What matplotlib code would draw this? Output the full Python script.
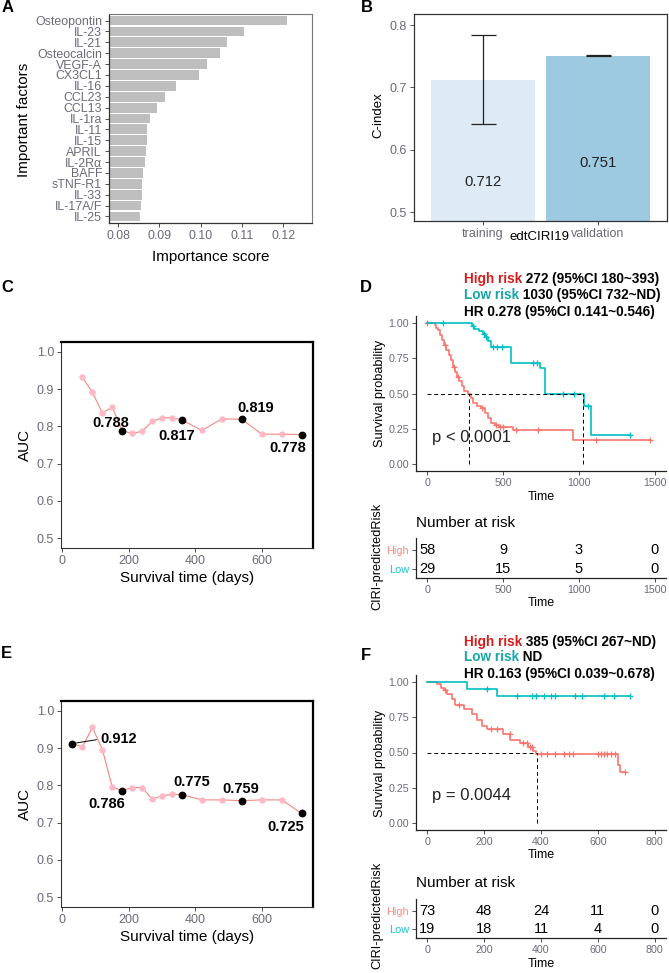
import numpy as np
import matplotlib.pyplot as plt

plt.rcParams['font.family'] = ['Liberation Sans', 'DejaVu Sans']

# ---------------- data ----------------
# A: importance of cytokines
factors = ['Osteopontin', 'IL-23', 'IL-21', 'Osteocalcin', 'VEGF-A', 'CX3CL1', 'IL-16',
           'CCL23', 'CCL13', 'IL-1ra', 'IL-11', 'IL-15', 'APRIL', 'IL-2Rα', 'BAFF',
           'sTNF-R1', 'IL-33', 'IL-17A/F', 'IL-25']
importance = [0.1210, 0.1104, 0.1063, 0.1047, 0.1015, 0.0995, 0.0940, 0.0914, 0.0894,
              0.0878, 0.0870, 0.0870, 0.0867, 0.0865, 0.0860, 0.0859, 0.0857, 0.0855, 0.0853]

# B: C-index
cohorts = ['training', 'validation']
cindex = [0.712, 0.751]
cindex_lo = [0.642, 0.751]
cindex_hi = [0.784, 0.752]

# C: time-dependent AUC, training
c_days = [60, 90, 120, 150, 180, 210, 240, 270, 300, 330, 360, 420, 480, 540, 600, 660, 720]
c_auc = [0.931, 0.891, 0.836, 0.851, 0.788, 0.781, 0.787, 0.813, 0.823, 0.823, 0.817,
         0.789, 0.820, 0.819, 0.779, 0.779, 0.778]
c_key_days = [180, 360, 540, 720]

# E: time-dependent AUC, validation
e_days = [30, 60, 90, 120, 150, 180, 210, 240, 270, 300, 330, 360, 420, 480, 540, 600, 660, 720]
e_auc = [0.912, 0.903, 0.955, 0.896, 0.795, 0.786, 0.794, 0.794, 0.763, 0.772, 0.776,
         0.775, 0.761, 0.761, 0.759, 0.761, 0.761, 0.725]
e_key_days = [30, 180, 360, 540, 720]

# D: Kaplan-Meier, training
d_high_t = [0, 50, 60, 70, 83, 95, 110, 125, 140, 156, 170, 182, 195, 210, 226, 245, 265,
            285, 303, 330, 357, 380, 401, 420, 445, 470, 566, 962]
d_high_s = [1.0, 0.983, 0.966, 0.948, 0.914, 0.879, 0.845, 0.81, 0.776, 0.741, 0.69, 0.655,
            0.62, 0.586, 0.552, 0.517, 0.50, 0.466, 0.431, 0.414, 0.397, 0.362, 0.328, 0.293,
            0.276, 0.259, 0.238, 0.167]
d_high_cens = [0, 118, 175, 205, 360, 455, 480, 500, 585, 730, 1110, 1470]
d_low_t = [0, 292, 310, 340, 368, 385, 401, 423, 555, 741, 774, 1032, 1083]
d_low_s = [1.0, 0.98, 0.96, 0.945, 0.925, 0.90, 0.87, 0.83, 0.72, 0.68, 0.50, 0.41, 0.205]
d_low_cens = [105, 300, 372, 390, 435, 460, 490, 700, 725, 895, 970, 1060, 1340]
d_medians = [272, 1030]
d_risk_times = [0, 500, 1000, 1500]
d_risk_high = [58, 9, 3, 0]
d_risk_low = [29, 15, 5, 0]

# F: Kaplan-Meier, validation
f_high_t = [0, 35, 47, 58, 70, 85, 99, 128, 157, 174, 192, 209, 267, 291, 326, 355, 372,
            384, 672, 678]
f_high_s = [1.0, 0.986, 0.959, 0.945, 0.918, 0.877, 0.84, 0.81, 0.77, 0.73, 0.685, 0.667,
            0.63, 0.59, 0.57, 0.54, 0.51, 0.49, 0.41, 0.365]
f_high_cens = [62, 112, 225, 245, 290, 335, 350, 362, 370, 400, 420, 450, 480, 500, 512,
               600, 612, 622, 632, 645, 660, 695]
f_low_t = [0, 140, 244]
f_low_s = [1.0, 0.952, 0.898]
f_low_cens = [209, 314, 370, 384, 409, 436, 451, 519, 544, 622, 657, 715]
f_medians = [385]
f_risk_times = [0, 200, 400, 600, 800]
f_risk_high = [73, 48, 24, 11, 0]
f_risk_low = [19, 18, 11, 4, 0]

# ---------------- figure ----------------
W, H = 669, 973
fig = plt.figure(figsize=(W / 100, H / 100), dpi=100)

TICK = '#6b6b78'
SALMON = '#F8766D'
TEAL = '#00BFC4'


def add_ax(l, t, r, b):
    return fig.add_axes([l / W, 1 - b / H, (r - l) / W, (b - t) / H])


def ftext(x, y, s, **kw):
    kw.setdefault('va', 'center')
    kw.setdefault('ha', 'center')
    return fig.text(x / W, 1 - y / H, s, **kw)


def ticks_style(ax, size):
    ax.tick_params(color='#333333', labelcolor=TICK, labelsize=size, length=3, width=0.6, pad=2)


# ---- A ----
axA = add_ax(109, 14, 312, 223)
ypos = np.arange(len(factors))[::-1]
axA.barh(ypos, importance, height=0.9, color='#BEBEBE')
axA.set_xlim(0.0778, 0.127)
axA.set_ylim(-0.6, 18.6)
axA.set_yticks(ypos)
axA.set_yticklabels(factors)
axA.set_xticks([0.08, 0.09, 0.10, 0.11, 0.12])
axA.set_xticklabels(['0.08', '0.09', '0.10', '0.11', '0.12'])
ticks_style(axA, 8.9)
for s in ['left', 'bottom']:
    axA.spines[s].set_color('#333333')
    axA.spines[s].set_linewidth(0.9)
for s in ['top', 'right']:
    axA.spines[s].set_color('#777777')
    axA.spines[s].set_linewidth(0.8)
ftext(24, 120, 'Important factors', rotation=90, fontsize=11)
ftext(211, 257, 'Importance score', fontsize=11)

# ---- B ----
axB = add_ax(414, 14, 667, 221)
xb = np.arange(1, len(cohorts) + 1)
axB.bar(xb, cindex, width=0.9, color=['#DEEBF7', '#9ECAE1'])
err = [np.array(cindex) - np.array(cindex_lo), np.array(cindex_hi) - np.array(cindex)]
axB.errorbar(xb, cindex, yerr=err, fmt='none', ecolor='#222222', elinewidth=0.9,
             capsize=9, capthick=0.9)
for x, v in zip(xb, cindex):
    axB.text(x, v * 0.77, f'{v:.3f}', ha='center', va='center', fontsize=10.7, color='#222222')
axB.set_xlim(0.4, 2.6)
axB.set_ylim(0.4856, 0.8177)
axB.set_yticks([0.5, 0.6, 0.7, 0.8])
axB.set_xticks(xb)
axB.set_xticklabels(cohorts)
ticks_style(axB, 9)
for s in axB.spines.values():
    s.set_color('#333333')
    s.set_linewidth(0.9)
ftext(378, 115, 'C-index', rotation=90, fontsize=9.5)
ftext(540, 237, 'edtCIRI19', fontsize=9.5)


# ---- C / E ----
def auc_panel(ax, days, auc, key_days, label_pos, segment=None):
    days = np.array(days)
    auc = np.array(auc)
    key = np.isin(days, key_days)
    ax.plot(days, auc, color='#F4877F', lw=0.8, zorder=1)
    ax.plot(days[~key], auc[~key], 'o', color='#FFB8C6', ms=4.6, mec='none', zorder=2)
    ax.plot(days[key], auc[key], 'o', color='black', ms=4.6, zorder=3)
    for i, (d, v, (lx, ly)) in enumerate(zip(days[key], auc[key], label_pos)):
        if segment is not None and i == segment:
            ax.annotate(f'{v:.3f}', xy=(d, v), xytext=(lx, ly), ha='center', va='center',
                        fontsize=10.5, fontweight='bold',
                        arrowprops=dict(arrowstyle='-', color='black', lw=0.7,
                                        relpos=(0, 0.5), shrinkA=1, shrinkB=3))
        else:
            ax.text(lx, ly, f'{v:.3f}', ha='center', va='center', fontsize=10.5,
                    fontweight='bold')
    ax.set_xlim(-4.5, 754.5)
    ax.set_ylim(0.474, 1.026)
    ax.set_xticks([0, 200, 400, 600])
    ax.set_yticks([0.5, 0.6, 0.7, 0.8, 0.9, 1.0])
    ticks_style(ax, 9)
    for s in ['left', 'bottom']:
        ax.spines[s].set_color('#333333')
        ax.spines[s].set_linewidth(0.8)
    for s in ['top', 'right']:
        ax.spines[s].set_color('black')
        ax.spines[s].set_linewidth(1.6)


axC = add_ax(61, 342, 313, 548)
auc_panel(axC, c_days, c_auc, c_key_days,
          [(146, 0.81), (343, 0.773), (583, 0.85), (677, 0.741)])
ftext(25, 445, 'AUC', rotation=90, fontsize=11)
ftext(187, 578, 'Survival time (days)', fontsize=11)

axE = add_ax(61, 701, 313, 907)
auc_panel(axE, e_days, e_auc, e_key_days,
          [(170, 0.924), (132, 0.75), (390, 0.81), (537, 0.79), (672, 0.689)], segment=0)
ftext(25, 804, 'AUC', rotation=90, fontsize=11)
ftext(187, 937, 'Survival time (days)', fontsize=11)


# ---- D / F ----
def km_panel(ax, curves, medians, ptext, xlim, xticks):
    for t, s, cens, col in curves:
        t = np.array(t, float)
        s = np.array(s, float)
        end = max(max(cens), t[-1])
        ax.step(np.append(t, end), np.append(s, s[-1]), where='post', color=col, lw=1.2)
        idx = np.searchsorted(t, cens, side='right') - 1
        ax.plot(cens, s[idx], '+', color=col, ms=5, mew=0.9, ls='none')
    m = max(medians)
    ax.plot([0, m], [0.5, 0.5], ls=(0, (4, 3)), color='black', lw=0.7)
    for md in medians:
        ax.plot([md, md], [0, 0.5], ls=(0, (4, 3)), color='black', lw=0.7)
    ax.text(ptext[0], ptext[1], ptext[2], ha='left', va='center', fontsize=12, color='#222222')
    ax.set_xlim(*xlim)
    ax.set_ylim(-0.05, 1.05)
    ax.set_xticks(xticks)
    ax.set_yticks([0, 0.25, 0.5, 0.75, 1.0])
    ax.set_yticklabels(['0.00', '0.25', '0.50', '0.75', '1.00'])
    ticks_style(ax, 7.7)
    for s in ['top', 'right']:
        ax.spines[s].set_visible(False)
    for s in ['left', 'bottom']:
        ax.spines[s].set_color('#222222')
        ax.spines[s].set_linewidth(0.9)


def risk_table(ax, times, high, low, xlim, xticks):
    for t, h, l in zip(times, high, low):
        ax.text(t, 2, str(h), ha='center', va='center', fontsize=10.5)
        ax.text(t, 1, str(l), ha='center', va='center', fontsize=10.5)
    ax.set_xlim(*xlim)
    ax.set_ylim(0.5, 2.65)
    ax.set_xticks(xticks)
    ax.set_yticks([2, 1])
    ax.set_yticklabels(['High', 'Low'])
    ticks_style(ax, 7.7)
    ax.tick_params(axis='y', labelsize=7.9)
    for lab, col in zip(ax.get_yticklabels(), ['#FF8A85', '#1CC8CC']):
        lab.set_color(col)
    for s in ['top', 'right']:
        ax.spines[s].set_visible(False)
    for s in ['left', 'bottom']:
        ax.spines[s].set_color('#222222')
        ax.spines[s].set_linewidth(0.9)


def colored_line(x, y, parts, size=9.8):
    r = fig.canvas.get_renderer()
    for s, c in parts:
        t = ftext(x, y, s, ha='left', color=c, fontsize=size, fontweight='bold')
        x += t.get_window_extent(renderer=r).width


RED_T = '#D91C1C'
TEAL_T = '#17A6A8'

axD = add_ax(416, 316, 666, 471)
km_panel(axD, [(d_high_t, d_high_s, d_high_cens, SALMON), (d_low_t, d_low_s, d_low_cens, TEAL)],
         d_medians, (31, 0.186, 'p < 0.0001'), (-75, 1575), [0, 500, 1000, 1500])
ftext(380, 393, 'Survival probability', rotation=90, fontsize=9.2)
ftext(541, 497, 'Time', fontsize=9)
axDt = add_ax(416, 538, 666, 578)
risk_table(axDt, d_risk_times, d_risk_high, d_risk_low, (-75, 1575), [0, 500, 1000, 1500])
ftext(416, 523, 'Number at risk', ha='left', fontsize=11)
ftext(541, 603, 'Time', fontsize=9)
ftext(377, 556, 'CIRI-predictedRisk', rotation=90, fontsize=9.2)

axF = add_ax(416, 675, 666, 830)
km_panel(axF, [(f_high_t, f_high_s, f_high_cens, SALMON), (f_low_t, f_low_s, f_low_cens, TEAL)],
         f_medians, (17, 0.192, 'p = 0.0044'), (-40, 840), [0, 200, 400, 600, 800])
ftext(380, 763, 'Survival probability', rotation=90, fontsize=9.2)
ftext(541, 855, 'Time', fontsize=9)
axFt = add_ax(416, 899, 666, 938)
risk_table(axFt, f_risk_times, f_risk_high, f_risk_low, (-40, 840), [0, 200, 400, 600, 800])
ftext(416, 883, 'Number at risk', ha='left', fontsize=11)
ftext(541, 964, 'Time', fontsize=9)
ftext(377, 915, 'CIRI-predictedRisk', rotation=90, fontsize=9.2)

colored_line(464, 279, [('High risk', RED_T), (' 272 (95%CI 180~393)', 'black')])
colored_line(464, 295, [('Low risk', TEAL_T), (' 1030 (95%CI 732~ND)', 'black')])
colored_line(464, 312, [('HR 0.278 (95%CI 0.141~0.546)', 'black')])
colored_line(464, 642, [('High risk', RED_T), (' 385 (95%CI 267~ND)', 'black')])
colored_line(464, 657, [('Low risk', TEAL_T), (' ND', 'black')])
colored_line(464, 674, [('HR 0.163 (95%CI 0.039~0.678)', 'black')])

# panel letters
for lab, x, y in [('A', 8, 8), ('B', 367, 8), ('C', 7, 287), ('D', 366, 287),
                  ('E', 6, 654), ('F', 366, 655)]:
    ftext(x, y, lab, fontsize=12, fontweight='bold')

fig.savefig('out.png', dpi=100)
